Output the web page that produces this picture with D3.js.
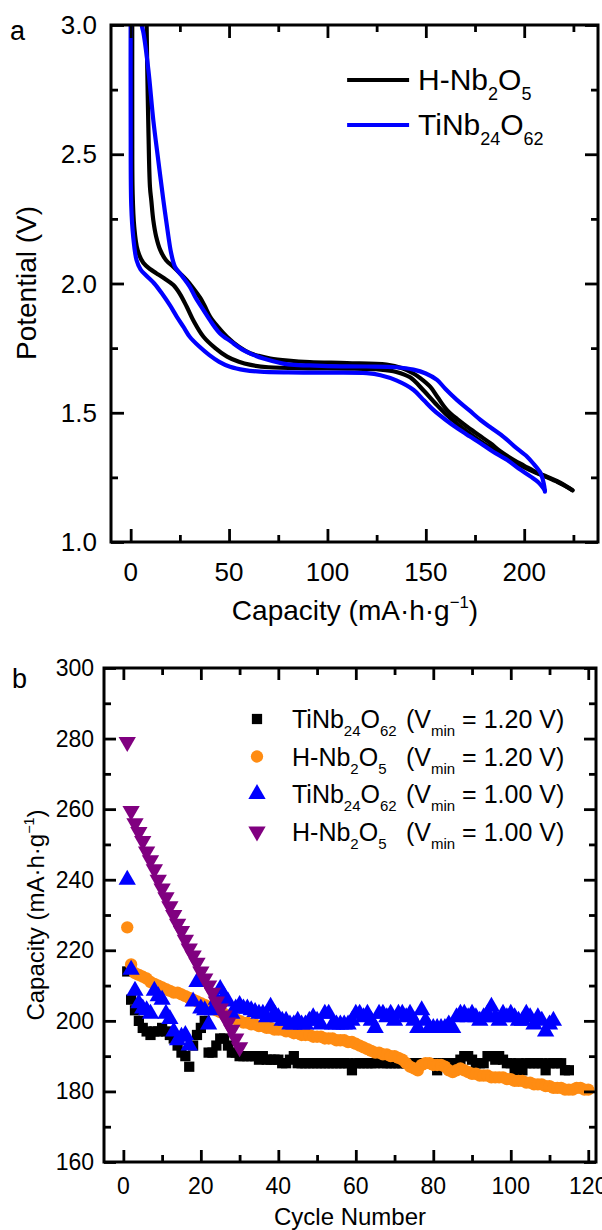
<!DOCTYPE html>
<html><head><meta charset="utf-8">
<script src="https://cdn.jsdelivr.net/npm/d3@7"></script>
<style>
body{margin:0;background:#fff}
svg text{font-family:"Liberation Sans",Arial,Helvetica,sans-serif;fill:#000;white-space:pre}
</style>
</head><body>
<svg id="c" width="602" height="1230"></svg>
<script>
// ---------------- Panel a data: [capacity (mA h/g), potential (V)] ----------------
const capTicks = [0, 50, 100, 150, 200];
const capMinor = [25, 75, 125, 175, 225];
const potTicks = [1.0, 1.5, 2.0, 2.5, 3.0];
const potMinor = [1.25, 1.75, 2.25, 2.75];

const hnbDischarge = [[0.8,3.1],[0.8,2.6],[1.0,2.35],[1.8,2.22],[3.5,2.13],[6.4,2.08],[10,2.055],[13,2.04],[17,2.02],[21.7,1.994],[25,1.96],[28.5,1.91],[32,1.855],[37,1.794],[43,1.75],[49,1.717],[55,1.697],[61,1.685],[70,1.676],[90,1.672],[110,1.671],[127,1.667],[135,1.658],[142,1.637],[149,1.585],[155,1.535],[160.8,1.49],[167,1.45],[174.4,1.407],[180,1.378],[186.3,1.349],[193,1.318],[199.8,1.29],[206,1.268],[211.7,1.25],[217,1.232],[222,1.212],[224.5,1.2]];
const hnbCharge = [[224.5,1.2],[220,1.222],[216.8,1.235],[211,1.255],[206.6,1.268],[200,1.295],[194.7,1.317],[188,1.35],[182.8,1.382],[177,1.413],[171,1.446],[166,1.475],[160.8,1.51],[156,1.56],[152.3,1.60],[147,1.635],[143.7,1.652],[138,1.672],[130,1.686],[110,1.692],[91,1.696],[80,1.702],[71,1.71],[65,1.72],[60.7,1.73],[55,1.755],[48.9,1.794],[44,1.835],[40.4,1.871],[37.5,1.915],[35.3,1.945],[32,1.98],[28.5,2.013],[25,2.04],[21.6,2.065],[18,2.09],[15,2.13],[13,2.18],[11.5,2.245],[10.5,2.32],[9.8,2.374],[9,2.6],[8.5,2.8],[8.1,3.0],[8,3.1]];
const tnoDischarge = [[0,3.1],[0,2.6],[0.3,2.3],[1.3,2.18],[3,2.09],[5,2.055],[8,2.03],[12,2.0],[16,1.96],[20,1.915],[23.4,1.872],[27,1.83],[30,1.794],[35,1.755],[40,1.723],[45,1.697],[50.5,1.678],[58,1.665],[65.8,1.659],[80,1.656],[100,1.655],[120,1.653],[127,1.645],[135,1.625],[143.8,1.588],[149,1.548],[154,1.51],[160,1.473],[166,1.44],[172,1.41],[177.8,1.382],[184,1.35],[191.4,1.317],[197,1.285],[203.3,1.253],[207,1.232],[210.5,1.2]];
const tnoCharge = [[210.5,1.195],[210.2,1.215],[209.5,1.24],[208.3,1.267],[205,1.30],[201.5,1.33],[195,1.37],[189.5,1.407],[183.5,1.44],[177.8,1.472],[172,1.51],[165.9,1.549],[160,1.592],[155.7,1.627],[150,1.652],[143.7,1.667],[135,1.676],[120,1.679],[100,1.68],[91,1.683],[80,1.687],[67.5,1.71],[62,1.725],[57,1.743],[51,1.775],[45.4,1.807],[41,1.85],[37,1.897],[33,1.945],[30,1.988],[26,2.03],[22.5,2.065],[20.5,2.12],[19.2,2.181],[16.6,2.323],[14,2.478],[11.5,2.632],[9,2.826],[6.5,2.97],[5.6,3.0],[5.3,3.1]];

// ---------------- Panel b data: capacity (mA h/g) per cycle, starting at cycle 1 ----------------
const cycleTicks = [0, 20, 40, 60, 80, 100, 120];
const cycleMinor = [10, 30, 50, 70, 90, 110];
const capBTicks = [160, 180, 200, 220, 240, 260, 280, 300];
const capBMinor = [170, 190, 210, 230, 250, 270, 290];

const tno120 = [214,206,203,200,198,197,196,197,197,198,
  197,196,195,193,191,190,187,193,196,198,
  200,191,191,193,195,195,193,191,191,190,
  190,190,190,190,189,190,189,189,189,189,
  188,188,189,190,188,188,188,188,188,188,
  188,188,188,188,188,188,188,188,186,188,
  188,188,188,188,188,189,188,188,188,188,
  188,188,188,188,188,188,188,188,188,188,
  186,188,188,188,188,188,189,190,190,189,
  188,188,188,190,190,189,190,189,188,188,
  186,188,186,188,188,188,188,188,186,188,
  188,188,188,186,186];
const hnb120 = [226.5,216,213.5,213,212.5,212,211,210.5,210,209.5,
  209,208.5,208,208,207.5,207,206.5,206,205.5,205,
  204.5,204,203.5,203,202.5,202,201.5,201,200.5,200,
  199.5,199.5,199,199,198.5,198.5,198,198,197.5,197.5,
  197.5,197,197,196.5,196.5,196,196,196,195.5,195.5,
  195.5,195,195,195,194.5,194.5,194.5,194,194,193.5,
  193,192.5,192,191.5,191,191,190.5,190.5,190,190,
  189.5,189,188,187,186.5,186,187.5,188,188,187.5,
  187.5,187.5,187,186,185.5,186,186.5,186,185.5,185,
  185,184.5,184.5,184.5,184,184,184,184,183.5,183.5,
  183,183,183,182.5,182.5,182,182,182,181.5,181.5,
  181,181,181,180.5,180.5,180.5,181,181,180.5,180.5];
const tno100 = [240,214.5,208.5,205,203.5,203,202,208.5,207,206,
  202,200.5,197,194.5,195.5,196,193,205.5,211,203.5,
  203,199,203,206,209,207,205.5,202,203.5,204.5,
  203.5,203.5,203,202.5,202,202,201,204,202,201,
  200,200,199,199,200,199,199,200,201,200,
  199,202,202,199,199,199,199,199,200,202,
  202,201,202,200,198,202,202,201,202,200,
  202,202,201,202,200,198,203,200,198,198,
  198,198,198,199,198,201,202,202,201,202,
  201,200,201,202,204,201,200,202,201,202,
  201,200,200,202,201,199,201,200,197,199,200];
const hnb100 = [279,259.5,256,253.5,251,248,245.5,243,240,237.5,
  235,232.5,230,227.5,225.5,223,220.5,218.5,216.5,214,
  212,210,208,205.5,203.5,201.5,199.5,197.5,195,192.5];

const legendA = [
  {segs:[["H-Nb",""],["2","sub"],["O",""],["5","sub"]], color:"#000"},
  {segs:[["TiNb",""],["24","sub"],["O",""],["62","sub"]], color:"#0000ff"}
];
const seriesB = [
  {values:tno120, color:"#000000", sym:"square", segs:[["TiNb",""],["24","sub"],["O",""],["62","sub"]], v:"1.20"},
  {values:hnb120, color:"#ff8c12", sym:"circle", segs:[["H-Nb",""],["2","sub"],["O",""],["5","sub"]], v:"1.20"},
  {values:tno100, color:"#0000ff", sym:"up", segs:[["TiNb",""],["24","sub"],["O",""],["62","sub"]], v:"1.00"},
  {values:hnb100, color:"#800080", sym:"down", segs:[["H-Nb",""],["2","sub"],["O",""],["5","sub"]], v:"1.00"}
];

// ---------------- helpers ----------------
const svg = d3.select("#c");

function rich(textSel, segs, size) {
  let shift = 0;
  segs.forEach(([t, k]) => {
    const target = k === "sub" ? size * 0.32 : k === "sup" ? -size * 0.42 : 0;
    textSel.append("tspan").attr("dy", target - shift)
      .attr("font-size", k ? size * 0.6 : size).text(t);
    shift = target;
  });
}

function frame(x, y, xMaj, xMin, yMaj, yMin, major, minor) {
  const [x0, x1] = x.range(), [y0, y1] = y.range(); // y0 bottom, y1 top
  const g = svg.append("g");
  const style = s => s.call(a => a.select(".domain").remove())
    .call(a => a.selectAll("line").attr("stroke", "#000").attr("stroke-width", 2.8));
  g.append("g").attr("transform", `translate(0,${y0})`).call(d3.axisBottom(x).tickValues(xMaj).tickSize(-major).tickFormat("")).call(style);
  g.append("g").attr("transform", `translate(0,${y0})`).call(d3.axisBottom(x).tickValues(xMin).tickSize(-minor).tickFormat("")).call(style);
  g.append("g").attr("transform", `translate(0,${y1})`).call(d3.axisTop(x).tickValues(xMaj).tickSize(-major).tickFormat("")).call(style);
  g.append("g").attr("transform", `translate(0,${y1})`).call(d3.axisTop(x).tickValues(xMin).tickSize(-minor).tickFormat("")).call(style);
  g.append("g").attr("transform", `translate(${x0},0)`).call(d3.axisLeft(y).tickValues(yMaj).tickSize(-major).tickFormat("")).call(style);
  g.append("g").attr("transform", `translate(${x0},0)`).call(d3.axisLeft(y).tickValues(yMin).tickSize(-minor).tickFormat("")).call(style);
  g.append("g").attr("transform", `translate(${x1},0)`).call(d3.axisRight(y).tickValues(yMaj).tickSize(-major).tickFormat("")).call(style);
  g.append("g").attr("transform", `translate(${x1},0)`).call(d3.axisRight(y).tickValues(yMin).tickSize(-minor).tickFormat("")).call(style);
  g.append("rect").attr("x", x0).attr("y", y1).attr("width", x1 - x0).attr("height", y0 - y1)
    .attr("fill", "none").attr("stroke", "#000").attr("stroke-width", 3);
}

// ---------------- Panel a ----------------
const xa = d3.scaleLinear().domain([-10, 237.5]).range([111, 598]);
const ya = d3.scaleLinear().domain([1, 3]).range([542, 25]);

svg.append("clipPath").attr("id", "clipA").append("rect")
  .attr("x", 111).attr("y", 25).attr("width", 487).attr("height", 517);
const line = d3.line().x(d => xa(d[0])).y(d => ya(d[1])).curve(d3.curveCatmullRom.alpha(0.5));
const curves = svg.append("g").attr("clip-path", "url(#clipA)");
[[hnbDischarge, "#000"], [hnbCharge, "#000"], [tnoDischarge, "#0000ff"], [tnoCharge, "#0000ff"]].forEach(([d, c]) => {
  curves.append("path").datum(d).attr("d", line).attr("fill", "none")
    .attr("stroke", c).attr("stroke-width", 4.2).attr("stroke-linejoin", "round").attr("stroke-linecap", "round");
});

frame(xa, ya, capTicks, capMinor, potTicks, potMinor, 13, 7);

svg.append("g").selectAll("text").data(capTicks).join("text")
  .attr("x", d => xa(d)).attr("y", 581).attr("text-anchor", "middle").attr("font-size", 26).text(d => d);
svg.append("g").selectAll("text").data(potTicks).join("text")
  .attr("x", 97).attr("y", d => ya(d) + 9).attr("text-anchor", "end").attr("font-size", 26).text(d3.format(".1f"));

const xtA = svg.append("text").attr("x", 355).attr("y", 620).attr("text-anchor", "middle");
rich(xtA, [["Capacity (mA\u00B7h\u00B7g", ""], ["\u22121", "sup"], [")", ""]], 28);
const ytA = svg.append("text").attr("transform", "translate(36,283) rotate(-90)").attr("text-anchor", "middle");
rich(ytA, [["Potential (V)", ""]], 28);
svg.append("text").attr("x", 10).attr("y", 40).attr("font-size", 27).text("a");

legendA.forEach((l, i) => {
  const ly = 80 + i * 45;
  svg.append("line").attr("x1", xa(110)).attr("x2", xa(141.5)).attr("y1", ly).attr("y2", ly)
    .attr("stroke", l.color).attr("stroke-width", 4.2);
  const t = svg.append("text").attr("x", 418).attr("y", ly + 10);
  rich(t, l.segs, 30);
});

// ---------------- Panel b ----------------
const xb = d3.scaleLinear().domain([-5, 122]).range([104, 596]);
const yb = d3.scaleLinear().domain([160, 300]).range([1162, 668]);

const symType = {square: d3.symbolSquare, circle: d3.symbolCircle, up: d3.symbolTriangle, down: d3.symbolTriangle};
const symSize = {square: 105, circle: 120, up: 130, down: 130};
const pts = svg.append("g");
seriesB.forEach(s => {
  const gen = d3.symbol().type(symType[s.sym]).size(symSize[s.sym]);
  pts.append("g").selectAll("path").data(s.values).join("path")
    .attr("transform", (v, i) => `translate(${xb(i + 1)},${yb(v)})` + (s.sym === "down" ? " rotate(180)" : ""))
    .attr("d", gen()).attr("fill", s.color);
});

frame(xb, yb, cycleTicks, cycleMinor, capBTicks, capBMinor, 12, 7);

svg.append("g").selectAll("text").data(cycleTicks).join("text")
  .attr("x", d => xb(d)).attr("y", 1194).attr("text-anchor", "middle").attr("font-size", 23).text(d => d);
svg.append("g").selectAll("text").data(capBTicks).join("text")
  .attr("x", 94).attr("y", d => yb(d) + 8).attr("text-anchor", "end").attr("font-size", 23).text(d => d);

const xtB = svg.append("text").attr("x", 350).attr("y", 1225).attr("text-anchor", "middle");
rich(xtB, [["Cycle Number", ""]], 24);
const ytB = svg.append("text").attr("transform", "translate(44,915) rotate(-90)").attr("text-anchor", "middle");
rich(ytB, [["Capacity (mA\u00B7h\u00B7g", ""], ["\u22121", "sup"], [")", ""]], 24);
svg.append("text").attr("x", 12).attr("y", 688).attr("font-size", 27).text("b");

seriesB.forEach((s, i) => {
  const ly = 719 + i * 37.5;
  const gen = d3.symbol().type(symType[s.sym]).size(symSize[s.sym]);
  svg.append("path").attr("d", gen()).attr("fill", s.color)
    .attr("transform", `translate(257,${ly})` + (s.sym === "down" ? " rotate(180)" : ""));
  const t = svg.append("text").attr("x", 292).attr("y", ly + 9);
  rich(t, s.segs, 25);
  const t2 = svg.append("text").attr("x", 406).attr("y", ly + 9);
  rich(t2, [["(V", ""], ["min", "sub"], [" = " + s.v + " V)", ""]], 25);
});
</script>
</body></html>
